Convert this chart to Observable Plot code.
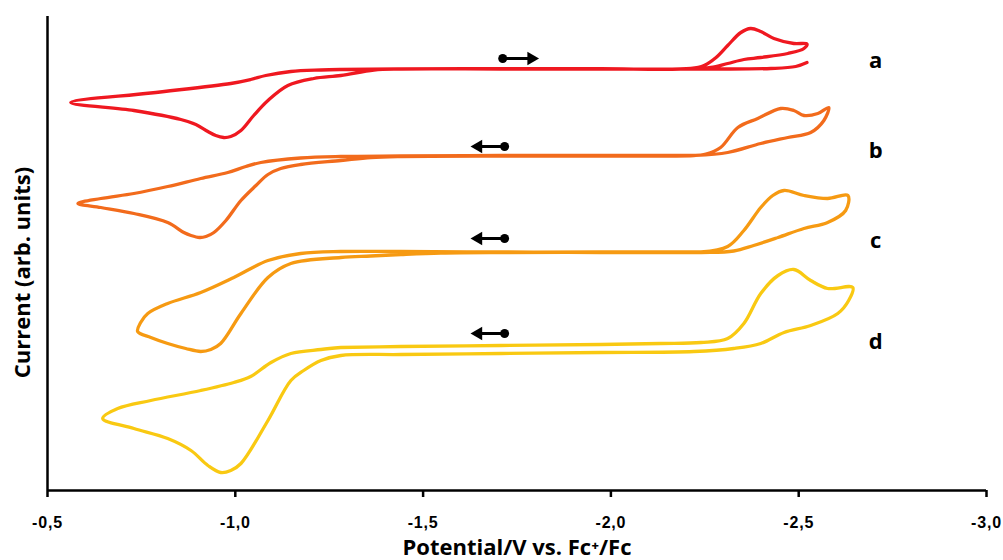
<!DOCTYPE html>
<html>
<head>
<meta charset="utf-8">
<script src="https://cdn.jsdelivr.net/npm/d3@7"></script>
<script src="https://cdn.jsdelivr.net/npm/@observablehq/plot@0.6"></script>
<style>
  html, body { margin: 0; padding: 0; background: #fff; }
  #chart svg { display: block; }
  g[aria-label="x-axis tick label"] text { font-family: "Liberation Sans", Arial, sans-serif; font-weight: bold; font-size: 16px; letter-spacing: 0.8px; }
</style>
</head>
<body>
<div id="chart"></div>
<script>
// ---- data (potential in V vs Fc+/Fc, current in arbitrary units) ----
const curveIds = ["a", "b", "c", "d"];
const curveColors = ["#ef1820", "#f26b1c", "#f69a12", "#f9c912"];

const potentialA = [-2.522,-2.492,-2.426,-2.248,-1.973,-1.707,-1.441,-1.369,-1.281,-1.209,-1.140,-1.087,-1.049,-1.015,-0.988,-0.969,-0.948,-0.927,-0.895,-0.855,-0.730,-0.562,-0.775,-0.988,-1.041,-1.081,-1.148,-1.228,-1.281,-1.441,-1.707,-1.973,-2.213,-2.248,-2.280,-2.311,-2.346,-2.372,-2.399,-2.434,-2.487,-2.522,-2.514,-2.471,-2.399,-2.354,-2.311,-2.266,-2.213];
const currentA   = [428,424,422,421.5,421.5,421.5,421.5,420.5,415,412,405,390,375,360,354,353,355,359,366,371,380,388,397.5,407,411,415,419,420.5,421,421.7,421.8,421.8,422,425,433,445,458,462,459,452,447,446.5,442,437,433,431,427,423,422];

const potentialB = [-2.221,-2.253,-2.292,-2.338,-2.391,-2.452,-2.487,-2.514,-2.551,-2.580,-2.567,-2.532,-2.471,-2.399,-2.311,-2.221,-1.973,-1.707,-1.441,-1.361,-1.281,-1.174,-1.121,-1.087,-1.055,-1.015,-0.975,-0.943,-0.922,-0.905,-0.882,-0.863,-0.820,-0.730,-0.642,-0.581,-0.642,-0.730,-0.820,-0.908,-0.980,-1.028,-1.068,-1.174,-1.281,-1.441,-1.707,-1.973,-2.221];
const currentB   = [335,336.5,343,363,372,382,380,375,377,383,370,358,353,347,338,335,334.5,334.5,334,333,330,326,322,316,305,290,270,258,254,253,255,258,268,277,283,287,292,297,304,312,318,324,328,332.5,334,334.5,335,335,335];

const potentialC = [-2.240,-2.311,-2.354,-2.399,-2.431,-2.461,-2.514,-2.577,-2.631,-2.625,-2.577,-2.514,-2.445,-2.380,-2.327,-2.240,-1.973,-1.707,-1.547,-1.441,-1.361,-1.281,-1.148,-1.087,-1.015,-0.961,-0.935,-0.908,-0.868,-0.820,-0.775,-0.740,-0.748,-0.767,-0.820,-0.908,-0.996,-1.087,-1.174,-1.281,-1.441,-1.707,-1.973,-2.240];
const currentC   = [238.5,244,260,283,295,300,295,292,295,280,268,262,253,245,239.5,238,238,238,237.5,236,234.5,233,227,213,177,147,141,139,142,147,153,159,168,177,187,198,213,230,237,239,239,238.5,238.5,238.5];

const potentialD = [-1.281,-1.441,-1.707,-1.973,-2.133,-2.240,-2.311,-2.354,-2.399,-2.445,-2.487,-2.532,-2.577,-2.644,-2.633,-2.604,-2.532,-2.461,-2.399,-2.327,-2.221,-1.973,-1.707,-1.441,-1.281,-1.228,-1.182,-1.148,-1.087,-1.015,-0.988,-0.961,-0.927,-0.882,-0.820,-0.730,-0.647,-0.687,-0.775,-0.908,-0.996,-1.041,-1.095,-1.148,-1.228,-1.281];
const currentD   = [143,144,145,146,147,148,152,167,197,215,221,210,202,203,190,177,165,158,147,142,139,138,137,136,135,130,120,110,70,27,20,18,25,40,52,62,72,82,90,100,108,114,128,137,141,143];

// scan direction arrows
const arrowStart   = [-1.712, -1.717, -1.717, -1.717];
const arrowEnd     = [-1.808, -1.627, -1.627, -1.627];
const arrowCurrent = [432, 344, 252, 157];

// curve labels
const labelPotential = [-2.705, -2.705, -2.705, -2.705];
const labelCurrent   = [423, 333, 243, 142];

const xTicks = [-0.5, -1.0, -1.5, -2.0, -2.5, -3.0];
const xTitle = "Potential/V vs. Fc\u207A/Fc";
const yTitle = "Current (arb. units)";

// ---- build tables ----
const series = [[potentialA, currentA], [potentialB, currentB], [potentialC, currentC], [potentialD, currentD]];
const rows = series.flatMap(([E, I], k) => E.map((e, i) => ({curve: curveIds[k], E: e, I: I[i]})));
const arrows = curveIds.map((id, k) => ({curve: id, start: arrowStart[k], end: arrowEnd[k], I: arrowCurrent[k]}));
const labels = curveIds.map((id, k) => ({text: id, E: labelPotential[k], I: labelCurrent[k]}));
const rightward = arrows.filter(d => d.end < d.start);
const leftward = arrows.filter(d => d.end > d.start);

const chart = Plot.plot({
  width: 1003,
  height: 560,
  marginLeft: 47,
  marginRight: 17,
  marginTop: 16,
  marginBottom: 70,
  x: {domain: [-0.5, -3.0], label: null},
  y: {domain: [0, 474], axis: null},
  color: {domain: curveIds, range: curveColors},
  marks: [
    Plot.line(rows, {x: "E", y: "I", z: "curve", stroke: "curve", strokeWidth: 3.3, curve: "catmull-rom"}),
    Plot.ruleY([0], {x1: -0.5, x2: -3.0, stroke: "black", strokeWidth: 2.5}),
    Plot.ruleX([-0.5], {y1: 0, y2: 474, stroke: "black", strokeWidth: 2.5}),
    Plot.axisX({ticks: xTicks, tickFormat: d => d.toFixed(1).replace(".", ","), tickSize: 7, tickPadding: 19, strokeWidth: 2.5, label: null, fill: "black"}),
    Plot.arrow(arrows, {x1: "start", x2: "end", y1: "I", y2: "I", headLength: 0, insetEnd: 6, stroke: "black", strokeWidth: 3}),
    Plot.dot(arrows, {x: "start", y: "I", r: 4.5, fill: "black"}),
    Plot.dot(rightward, {x: "end", y: "I", symbol: "triangle", r: 5, fill: "black", rotate: 90, dx: -7.5}),
    Plot.dot(leftward, {x: "end", y: "I", symbol: "triangle", r: 5, fill: "black", rotate: -90, dx: 7.5}),
    Plot.text(labels, {x: "E", y: "I", text: "text", lineAnchor: "bottom", fontSize: 22, fontWeight: "bold", fontFamily: "Open Sans", fill: "black"}),
    Plot.text([xTitle], {frameAnchor: "bottom", textAnchor: "middle", lineAnchor: "bottom", dy: 64, fontSize: 22, fontWeight: "bold", fontFamily: "Open Sans", fill: "black"}),
    Plot.text([yTitle], {frameAnchor: "left", textAnchor: "middle", rotate: -90, dx: -25, dy: 19, fontSize: 22, fontWeight: "bold", fontFamily: "Open Sans", fill: "black"})
  ]
});
document.getElementById("chart").appendChild(chart);
</script>
</body>
</html>
